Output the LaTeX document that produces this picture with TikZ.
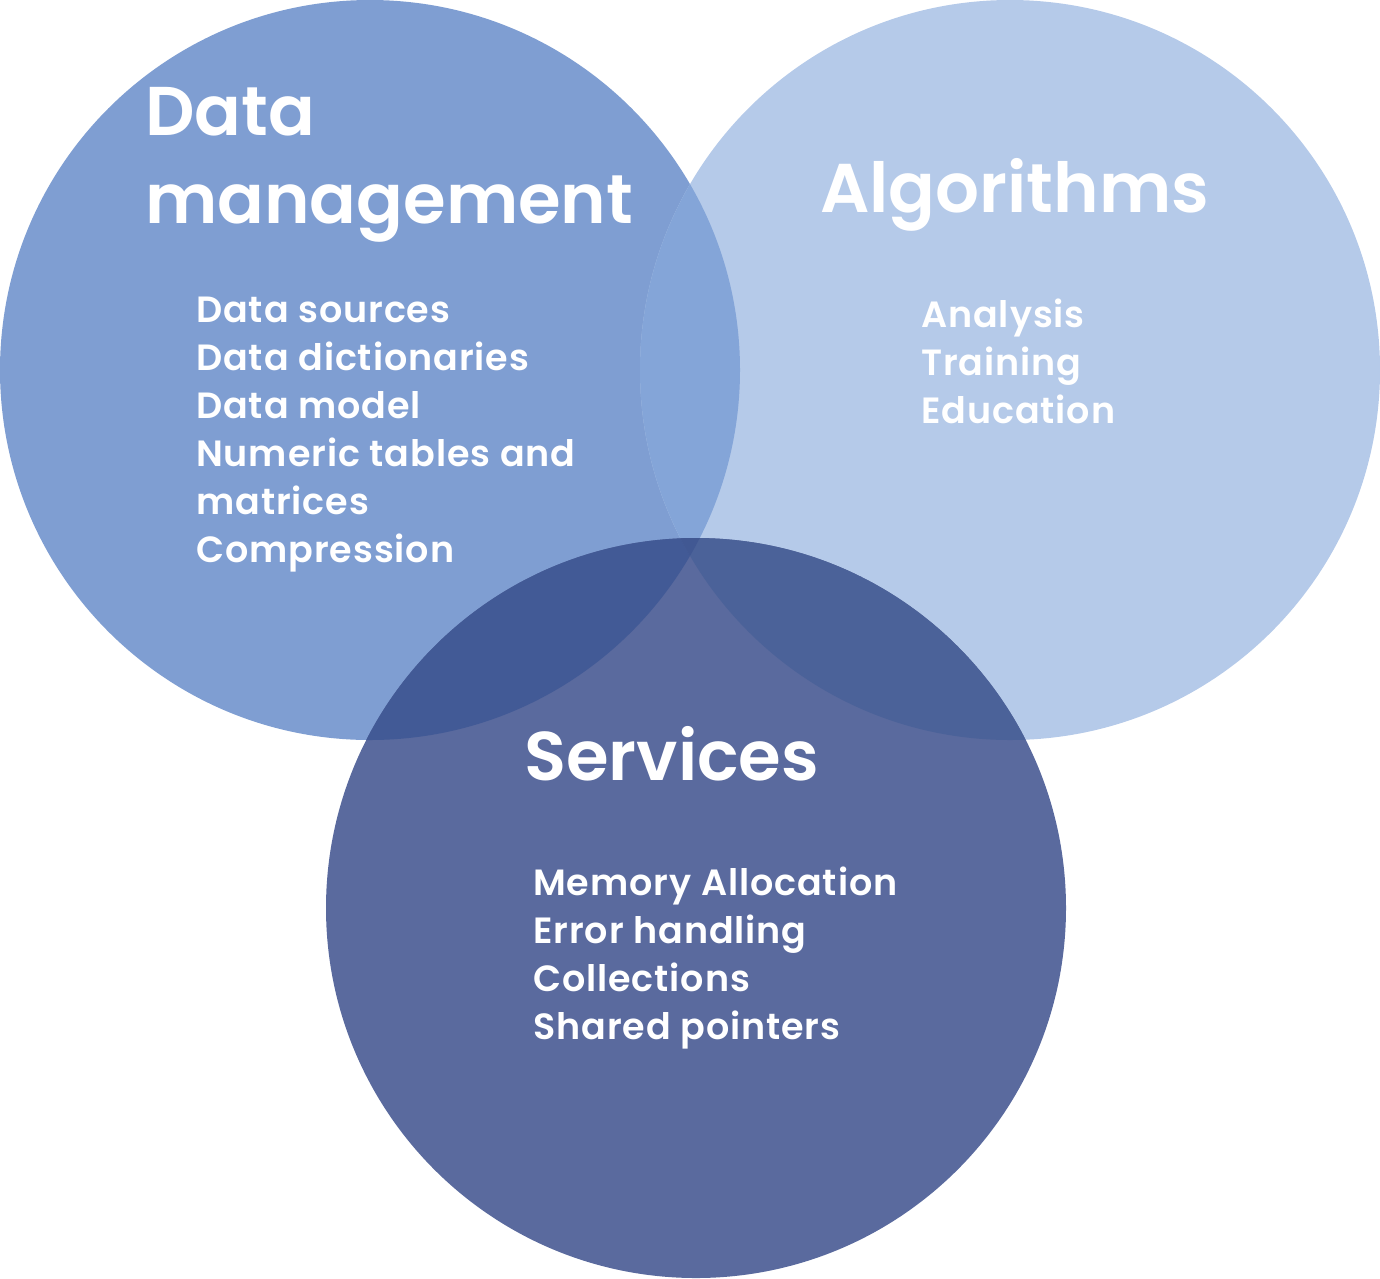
\documentclass[tikz,border=0pt]{standalone}
\usepackage{fontspec}
\IfFontExistsTF{Poppins SemiBold}
  {\newfontfamily\listfont{Poppins SemiBold}[LetterSpace=2.5]
   \newfontfamily\titlefont{Poppins SemiBold}}
  {\newfontfamily\listfont{Poppins}[LetterSpace=3.5]
   \newfontfamily\titlefont{Poppins}}
\definecolor{cA}{HTML}{7F9ED2}
\definecolor{cB}{HTML}{B5CAE9}
\definecolor{cAB}{HTML}{84A5D8}
\definecolor{cC}{HTML}{5A6A9E}
\definecolor{cAC}{HTML}{425A96}
\definecolor{cBC}{HTML}{4B6299}
\definecolor{cABC}{HTML}{415893}
\tikzset{
  ttl/.style={anchor=base west, inner sep=0pt, text=white, font=\titlefont\fontsize{69}{85}\selectfont},
  itm/.style={anchor=base west, inner sep=0pt, text=white, font=\listfont\fontsize{36.5}{48}\selectfont},
}
\begin{document}
\begin{tikzpicture}[x=1pt,y=-1pt]
\useasboundingbox (0,0) rectangle (1380,1278);
\coordinate (ca) at (370,370);
\coordinate (cb) at (1010,370);
\coordinate (cc) at (696,908);
\def\R{370}
% base circles
\fill[cA] (ca) circle (\R);
\fill[cB] (cb) circle (\R);
\begin{scope}
  \clip (ca) circle (\R);
  \fill[cAB] (cb) circle (\R);
\end{scope}
\fill[cC] (cc) circle (\R);
\begin{scope}
  \clip (cc) circle (\R);
  \fill[cAC] (ca) circle (\R);
  \fill[cBC] (cb) circle (\R);
  \clip (ca) circle (\R);
  \fill[cABC] (cb) circle (\R);
\end{scope}
% titles
\node[ttl] (t1a) at (145,135) {Data};
\node[ttl] (t1b) at (145,223) {management};
\node[ttl] (t2) at (820,212) {Algorithms};
\node[ttl] (t3) at (524,780) {Services};
% lists
\node[itm] (a1) at (196,322) {Data sources};
\node[itm] (a2) at (196,370) {Data dictionaries};
\node[itm] (a3) at (196,418) {Data model};
\node[itm] (a4) at (196,466) {Numeric tables and};
\node[itm] (a5) at (196,514) {matrices};
\node[itm] (a6) at (196,562) {Compression};
\node[itm] (b1) at (921,327) {Analysis};
\node[itm] (b2) at (921,375) {Training};
\node[itm] (b3) at (921,423) {Education};
\node[itm] (c1) at (533,895) {Memory Allocation};
\node[itm] (c2) at (533,943) {Error handling};
\node[itm] (c3) at (533,991) {Collections};
\node[itm] (c4) at (533,1039) {Shared pointers};
\end{tikzpicture}
\end{document}
